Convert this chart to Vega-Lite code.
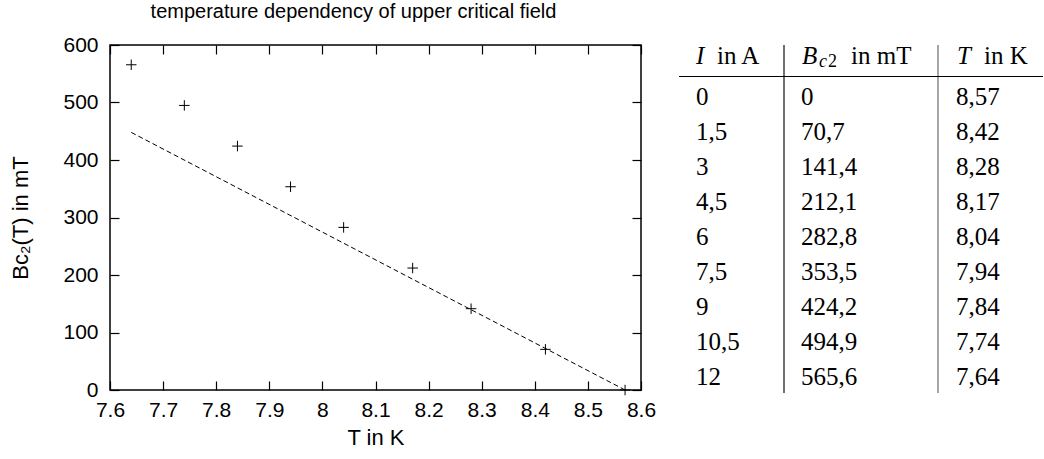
{
  "$schema": "https://vega.github.io/schema/vega-lite/v6.json",
  "background": "white",
  "padding": {"left": 9, "top": 1, "right": 0, "bottom": 0},
  "bounds": "flush",
  "spacing": 38,
  "config": {
    "view": {"stroke": null},
    "axis": {
      "labelFont": "Liberation Sans", "titleFont": "Liberation Sans",
      "labelColor": "black", "titleColor": "black", "tickColor": "black",
      "grid": false, "domain": false, "labelFontSize": 21, "titleFontSize": 22,
      "titleFontWeight": "normal", "tickWidth": 1.2, "labelFlush": false
    },
    "title": {"font": "Liberation Sans", "fontSize": 20, "fontWeight": "normal", "color": "black"},
    "text": {"font": "Liberation Serif", "fontSize": 25, "color": "black"}
  },
  "datasets": {
    "points": [
      {"T": 8.57, "B": 0}, {"T": 8.42, "B": 70.7}, {"T": 8.28, "B": 141.4},
      {"T": 8.17, "B": 212.1}, {"T": 8.04, "B": 282.8}, {"T": 7.94, "B": 353.5},
      {"T": 7.84, "B": 424.2}, {"T": 7.74, "B": 494.9}, {"T": 7.64, "B": 565.6}
    ],
    "fit": [{"T": 7.64, "B": 448}, {"T": 8.57, "B": 0}],
    "cells": [
      {"row": 1, "col": 1, "text": "0"}, {"row": 1, "col": 2, "text": "0"}, {"row": 1, "col": 3, "text": "8,57"},
      {"row": 2, "col": 1, "text": "1,5"}, {"row": 2, "col": 2, "text": "70,7"}, {"row": 2, "col": 3, "text": "8,42"},
      {"row": 3, "col": 1, "text": "3"}, {"row": 3, "col": 2, "text": "141,4"}, {"row": 3, "col": 3, "text": "8,28"},
      {"row": 4, "col": 1, "text": "4,5"}, {"row": 4, "col": 2, "text": "212,1"}, {"row": 4, "col": 3, "text": "8,17"},
      {"row": 5, "col": 1, "text": "6"}, {"row": 5, "col": 2, "text": "282,8"}, {"row": 5, "col": 3, "text": "8,04"},
      {"row": 6, "col": 1, "text": "7,5"}, {"row": 6, "col": 2, "text": "353,5"}, {"row": 6, "col": 3, "text": "7,94"},
      {"row": 7, "col": 1, "text": "9"}, {"row": 7, "col": 2, "text": "424,2"}, {"row": 7, "col": 3, "text": "7,84"},
      {"row": 8, "col": 1, "text": "10,5"}, {"row": 8, "col": 2, "text": "494,9"}, {"row": 8, "col": 3, "text": "7,74"},
      {"row": 9, "col": 1, "text": "12"}, {"row": 9, "col": 2, "text": "565,6"}, {"row": 9, "col": 3, "text": "7,64"}
    ],
    "headSym": [{"row": 0, "col": 1, "text": "I"}, {"row": 0, "col": 2, "text": "B"}, {"row": 0, "col": 3, "text": "T"}],
    "headUnit": [{"row": 0, "col": 1, "text": "in A"}, {"row": 0, "col": 2, "text": "in mT"}, {"row": 0, "col": 3, "text": "in K"}],
    "subC": [{"row": 0, "col": 2, "text": "c"}],
    "sub2": [{"row": 0, "col": 2, "text": "2"}],
    "vrules": [{"col": 1}, {"col": 2}],
    "hrule": [{"row": 0.5}]
  },
  "hconcat": [
    {
      "width": 531,
      "height": 345,
      "title": {"text": "temperature dependency of upper critical field", "dx": -22, "offset": 12},
      "view": {"stroke": "black", "strokeWidth": 1.5},
      "layer": [
        {
          "data": {"name": "fit"},
          "mark": {"type": "line", "color": "black", "strokeWidth": 1, "strokeDash": [5, 3]},
          "encoding": {
            "x": {
              "field": "T", "type": "quantitative",
              "scale": {"domain": [7.6, 8.6], "nice": false, "zero": false},
              "axis": {"orient": "bottom", "values": [7.6, 7.7, 7.8, 7.9, 8, 8.1, 8.2, 8.3, 8.4, 8.5, 8.6], "format": "~g", "tickSize": -9, "labelPadding": 18, "title": "T in K", "titlePadding": 7}
            },
            "y": {
              "field": "B", "type": "quantitative",
              "scale": {"domain": [0, 600], "nice": false},
              "axis": {"orient": "left", "values": [0, 100, 200, 300, 400, 500, 600], "tickSize": -9, "labelPadding": 21, "title": "Bᴄ₂(T) in mT", "titlePadding": 30}
            }
          }
        },
        {
          "data": {"name": "points"},
          "mark": {"type": "point", "shape": "M-1,0H1M0,-1V1", "size": 110, "filled": false, "stroke": "black", "strokeWidth": 1, "opacity": 1},
          "encoding": {
            "x": {
              "field": "T", "type": "quantitative",
              "axis": {"orient": "top", "values": [7.6, 7.7, 7.8, 7.9, 8, 8.1, 8.2, 8.3, 8.4, 8.5, 8.6], "labels": false, "title": null, "tickSize": -9}
            },
            "y": {
              "field": "B", "type": "quantitative",
              "axis": {"orient": "right", "values": [0, 100, 200, 300, 400, 500, 600], "labels": false, "title": null, "tickSize": -9}
            }
          }
        }
      ],
      "resolve": {"axis": {"x": "independent", "y": "independent"}}
    },
    {
      "width": 364,
      "height": 348,
      "view": {"stroke": null},
      "layer": [
        {
          "data": {"name": "vrules"},
          "mark": {"type": "rule", "strokeWidth": 1.3},
          "encoding": {
            "x": {"field": "col", "type": "quantitative", "scale": {"domain": [1, 2], "range": [105, 259], "nice": false, "zero": false}, "axis": null},
            "color": {"field": "col", "type": "nominal", "scale": {"domain": [1, 2], "range": ["#222222", "#777777"]}, "legend": null}
          }
        },
        {
          "data": {"name": "hrule"},
          "mark": {"type": "rule", "strokeWidth": 1.2, "color": "black"},
          "encoding": {
            "y": {"field": "row", "type": "quantitative", "scale": {"domain": [0, 1, 9], "range": [11, 52, 332], "nice": false, "zero": false}, "axis": null}
          }
        },
        {
          "data": {"name": "cells"},
          "mark": {"type": "text", "align": "left", "baseline": "middle"},
          "encoding": {
            "x": {"field": "col", "type": "quantitative", "scale": {"domain": [1, 2, 3], "range": [17, 122, 277], "nice": false, "zero": false}, "axis": null},
            "y": {"field": "row", "type": "quantitative", "scale": {"domain": [0, 1, 9], "range": [11, 52, 332], "nice": false, "zero": false}, "axis": null},
            "text": {"field": "text", "type": "nominal"}
          }
        },
        {
          "data": {"name": "headSym"},
          "mark": {"type": "text", "align": "left", "baseline": "middle", "fontStyle": "italic"},
          "encoding": {
            "x": {"field": "col", "type": "quantitative", "scale": {"domain": [1, 2, 3], "range": [17, 123, 278], "nice": false, "zero": false}, "axis": null},
            "y": {"field": "row", "type": "quantitative", "scale": {"domain": [0, 1, 9], "range": [11, 52, 332], "nice": false, "zero": false}, "axis": null},
            "text": {"field": "text", "type": "nominal"}
          }
        },
        {
          "data": {"name": "headUnit"},
          "mark": {"type": "text", "align": "left", "baseline": "middle"},
          "encoding": {
            "x": {"field": "col", "type": "quantitative", "scale": {"domain": [1, 2, 3], "range": [38, 172, 305], "nice": false, "zero": false}, "axis": null},
            "y": {"field": "row", "type": "quantitative", "scale": {"domain": [0, 1, 9], "range": [11, 52, 332], "nice": false, "zero": false}, "axis": null},
            "text": {"field": "text", "type": "nominal"}
          }
        },
        {
          "data": {"name": "subC"},
          "mark": {"type": "text", "align": "left", "baseline": "middle", "fontStyle": "italic", "fontSize": 18, "dy": 6},
          "encoding": {
            "x": {"field": "col", "type": "quantitative", "scale": {"domain": [2, 3], "range": [140, 240], "nice": false, "zero": false}, "axis": null},
            "y": {"field": "row", "type": "quantitative", "scale": {"domain": [0, 1, 9], "range": [11, 52, 332], "nice": false, "zero": false}, "axis": null},
            "text": {"field": "text", "type": "nominal"}
          }
        },
        {
          "data": {"name": "sub2"},
          "mark": {"type": "text", "align": "left", "baseline": "middle", "fontSize": 18, "dy": 6},
          "encoding": {
            "x": {"field": "col", "type": "quantitative", "scale": {"domain": [2, 3], "range": [149, 249], "nice": false, "zero": false}, "axis": null},
            "y": {"field": "row", "type": "quantitative", "scale": {"domain": [0, 1, 9], "range": [11, 52, 332], "nice": false, "zero": false}, "axis": null},
            "text": {"field": "text", "type": "nominal"}
          }
        }
      ],
      "resolve": {"scale": {"x": "independent"}}
    }
  ]
}
